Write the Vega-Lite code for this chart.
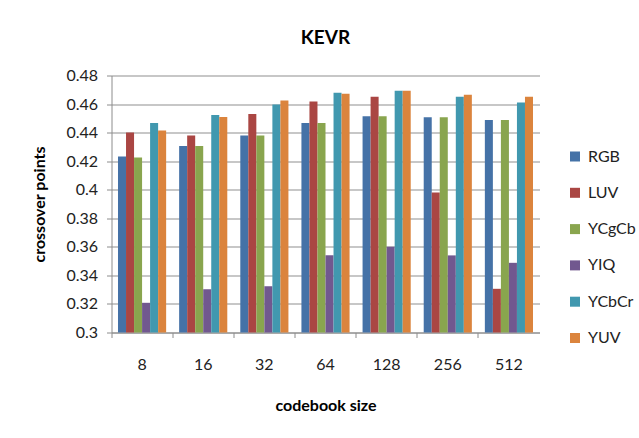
{
  "$schema": "https://vega.github.io/schema/vega-lite/v6.json",
  "autosize": {"type": "none"},
  "padding": {"left": 111.5, "top": 75.5, "right": 99.5, "bottom": 105.5},
  "width": 428,
  "height": 257,
  "background": "white",
  "title": {
    "text": "KEVR",
    "font": "Lato",
    "fontSize": 19,
    "fontWeight": "bold",
    "color": "#000000",
    "frame": "group",
    "anchor": "middle",
    "baseline": "alphabetic",
    "offset": 5
  },
  "data": {
    "values": [
      {"size": "8", "space": "RGB", "value": 0.4233},
      {"size": "8", "space": "LUV", "value": 0.4401},
      {"size": "8", "space": "YCgCb", "value": 0.4226},
      {"size": "8", "space": "YIQ", "value": 0.3208},
      {"size": "8", "space": "YCbCr", "value": 0.4468},
      {"size": "8", "space": "YUV", "value": 0.4415},
      {"size": "16", "space": "RGB", "value": 0.4307},
      {"size": "16", "space": "LUV", "value": 0.438},
      {"size": "16", "space": "YCgCb", "value": 0.4307},
      {"size": "16", "space": "YIQ", "value": 0.3303},
      {"size": "16", "space": "YCbCr", "value": 0.4524},
      {"size": "16", "space": "YUV", "value": 0.451},
      {"size": "32", "space": "RGB", "value": 0.438},
      {"size": "32", "space": "LUV", "value": 0.4531},
      {"size": "32", "space": "YCgCb", "value": 0.438},
      {"size": "32", "space": "YIQ", "value": 0.3324},
      {"size": "32", "space": "YCbCr", "value": 0.4597},
      {"size": "32", "space": "YUV", "value": 0.4625},
      {"size": "64", "space": "RGB", "value": 0.4468},
      {"size": "64", "space": "LUV", "value": 0.4618},
      {"size": "64", "space": "YCgCb", "value": 0.4468},
      {"size": "64", "space": "YIQ", "value": 0.3541},
      {"size": "64", "space": "YCbCr", "value": 0.4679},
      {"size": "64", "space": "YUV", "value": 0.4672},
      {"size": "128", "space": "RGB", "value": 0.4515},
      {"size": "128", "space": "LUV", "value": 0.4651},
      {"size": "128", "space": "YCgCb", "value": 0.4515},
      {"size": "128", "space": "YIQ", "value": 0.36},
      {"size": "128", "space": "YCbCr", "value": 0.4693},
      {"size": "128", "space": "YUV", "value": 0.4693},
      {"size": "256", "space": "RGB", "value": 0.4508},
      {"size": "256", "space": "LUV", "value": 0.398},
      {"size": "256", "space": "YCgCb", "value": 0.4508},
      {"size": "256", "space": "YIQ", "value": 0.354},
      {"size": "256", "space": "YCbCr", "value": 0.4651},
      {"size": "256", "space": "YUV", "value": 0.4665},
      {"size": "512", "space": "RGB", "value": 0.4489},
      {"size": "512", "space": "LUV", "value": 0.3306},
      {"size": "512", "space": "YCgCb", "value": 0.4489},
      {"size": "512", "space": "YIQ", "value": 0.3488},
      {"size": "512", "space": "YCbCr", "value": 0.4611},
      {"size": "512", "space": "YUV", "value": 0.4651}
    ]
  },
  "mark": {"type": "bar"},
  "encoding": {
    "x": {
      "field": "size",
      "type": "nominal",
      "sort": ["8", "16", "32", "64", "128", "256", "512"],
      "scale": {"paddingInner": 0, "paddingOuter": 0},
      "axis": {
        "title": "codebook size",
        "labelAngle": 0,
        "bandPosition": 0,
        "labelFont": "Lato",
        "labelFontSize": 16,
        "labelColor": "#222222",
        "labelPadding": 19,
        "tickSize": 5,
        "tickColor": "#8c8c8c",
        "domainColor": "#8c8c8c",
        "titleFont": "Lato",
        "titleFontSize": 16,
        "titleFontWeight": "bold",
        "titleColor": "#000000",
        "titleBaseline": "alphabetic",
        "titleY": 78,
        "grid": false
      }
    },
    "xOffset": {
      "field": "space",
      "type": "nominal",
      "sort": ["RGB", "LUV", "YCgCb", "YIQ", "YCbCr", "YUV"],
      "scale": {"paddingInner": 0, "paddingOuter": 0.81}
    },
    "y": {
      "field": "value",
      "type": "quantitative",
      "scale": {"domain": [0.3, 0.48], "zero": false, "clamp": true, "nice": false},
      "axis": {
        "title": "crossover points",
        "values": [0.3, 0.32, 0.34, 0.36, 0.38, 0.4, 0.42, 0.44, 0.46, 0.48],
        "format": "~g",
        "labelFont": "Lato",
        "labelFontSize": 16,
        "labelColor": "#222222",
        "labelPadding": 9,
        "tickSize": 5,
        "tickColor": "#8c8c8c",
        "domainColor": "#8c8c8c",
        "gridColor": "#b4b4b4",
        "gridWidth": 1.3,
        "titleFont": "Lato",
        "titleFontSize": 16,
        "titleFontWeight": "bold",
        "titleColor": "#000000",
        "titleBaseline": "middle",
        "titleX": -72
      }
    },
    "color": {
      "field": "space",
      "type": "nominal",
      "sort": ["RGB", "LUV", "YCgCb", "YIQ", "YCbCr", "YUV"],
      "scale": {
        "domain": ["RGB", "LUV", "YCgCb", "YIQ", "YCbCr", "YUV"],
        "range": ["#4572A7", "#AA4643", "#89A54E", "#71588F", "#4198AF", "#DB843D"]
      },
      "legend": {
        "title": null,
        "orient": "none",
        "legendX": 455.5,
        "legendY": 73,
        "padding": 0,
        "symbolType": "square",
        "symbolSize": 100,
        "symbolStrokeWidth": 0,
        "labelFont": "Lato",
        "labelFontSize": 16,
        "labelColor": "#222222",
        "labelOffset": 5,
        "rowPadding": 20.3
      }
    }
  },
  "config": {
    "view": {"stroke": null}
  }
}
